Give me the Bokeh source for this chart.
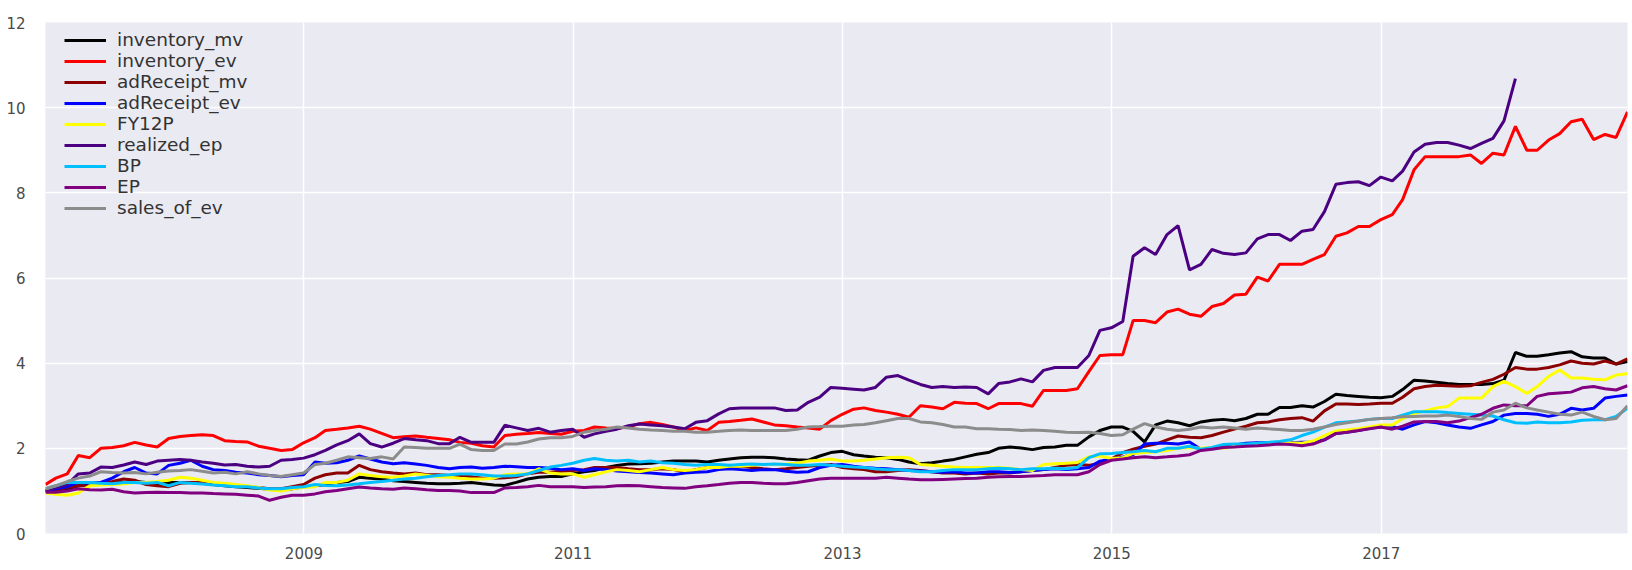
import pandas as pd
from bokeh.plotting import figure
from bokeh.models import Range1d, FixedTicker, DatetimeTickFormatter, Legend, LegendItem
from bokeh.embed import file_html
from bokeh.resources import INLINE

try:
    dates = pd.date_range("2007-01-31", "2018-10-31", freq="ME")
except Exception:
    dates = pd.date_range("2007-01-31", "2018-10-31", freq="M")

inventory_mv = [
    1.0, 0.98, 1.05, 1.12, 1.15, 1.18, 1.2, 1.2, 1.22, 1.2, 1.15, 1.2,
    1.2, 1.2, 1.18, 1.15, 1.12, 1.1, 1.08, 1.06, 1.04, 1.02, 1.05, 1.1,
    1.12, 1.15, 1.2, 1.22, 1.32, 1.3, 1.28, 1.24, 1.22, 1.2, 1.18, 1.17,
    1.17, 1.18, 1.2, 1.17, 1.14, 1.13, 1.2, 1.28, 1.32, 1.34, 1.34, 1.4,
    1.45, 1.48, 1.55, 1.6, 1.63, 1.64, 1.65, 1.68, 1.7, 1.7, 1.7, 1.68,
    1.72, 1.75, 1.78, 1.79, 1.79, 1.78, 1.75, 1.73, 1.72, 1.82, 1.9, 1.93,
    1.85, 1.82, 1.79, 1.78, 1.74, 1.68, 1.64, 1.66, 1.7, 1.74, 1.8, 1.86,
    1.9, 2.0, 2.03, 2.01, 1.97, 2.02, 2.03, 2.07, 2.07, 2.27, 2.42, 2.5,
    2.5, 2.4, 2.15, 2.55, 2.64, 2.6, 2.53, 2.62, 2.66, 2.68, 2.65, 2.7,
    2.8, 2.8, 2.96, 2.96, 3.0, 2.97, 3.1, 3.27, 3.24, 3.22, 3.2, 3.19,
    3.22, 3.38, 3.6, 3.58, 3.55, 3.52, 3.5, 3.5, 3.5, 3.52, 3.6, 4.25,
    4.16, 4.16, 4.2, 4.24, 4.27, 4.15, 4.12, 4.12, 3.98, 4.04,
]
inventory_ev = [
    1.15, 1.3, 1.4, 1.83, 1.78, 2.0, 2.02, 2.06, 2.14, 2.08, 2.03, 2.23,
    2.28, 2.3, 2.32, 2.3, 2.18, 2.16, 2.15, 2.05, 2.0, 1.95, 1.97, 2.13,
    2.25, 2.42, 2.45, 2.48, 2.52, 2.45, 2.35, 2.25, 2.27, 2.29, 2.26, 2.23,
    2.2, 2.14, 2.12, 2.06, 2.03, 2.3, 2.33, 2.35, 2.37, 2.35, 2.33, 2.4,
    2.42, 2.5, 2.48, 2.47, 2.5, 2.58, 2.61, 2.56, 2.5, 2.42, 2.48, 2.42,
    2.61, 2.63, 2.66, 2.69, 2.62, 2.55, 2.53, 2.5, 2.48, 2.45, 2.65, 2.8,
    2.92, 2.95, 2.89, 2.85, 2.8, 2.73, 3.0, 2.97, 2.93, 3.08, 3.06, 3.05,
    2.93, 3.05, 3.05, 3.05, 2.99, 3.36, 3.36, 3.36, 3.4, 3.8, 4.18, 4.2,
    4.2, 5.0, 5.0, 4.95, 5.2, 5.27, 5.15, 5.1, 5.33, 5.4, 5.6, 5.62,
    6.02, 5.93, 6.32, 6.32, 6.32, 6.44, 6.55, 6.98, 7.06, 7.21, 7.21, 7.37,
    7.49, 7.84, 8.54, 8.85, 8.85, 8.85, 8.85, 8.89, 8.69, 8.93, 8.89, 9.56,
    9.0, 9.0, 9.24, 9.39, 9.67, 9.73, 9.25, 9.37, 9.3, 9.9,
]
adReceipt_mv = [
    1.0, 1.02, 1.08, 1.12, 1.15, 1.2, 1.22, 1.28, 1.25, 1.15, 1.12, 1.1,
    1.18, 1.2, 1.2, 1.18, 1.15, 1.12, 1.1, 1.08, 1.05, 1.05, 1.1, 1.15,
    1.3, 1.38, 1.42, 1.42, 1.6, 1.5, 1.45, 1.42, 1.4, 1.42, 1.38, 1.38,
    1.36, 1.35, 1.33, 1.3, 1.3, 1.31, 1.33, 1.4, 1.44, 1.44, 1.46, 1.48,
    1.5, 1.55, 1.55, 1.55, 1.52, 1.5, 1.5, 1.52, 1.5, 1.45, 1.5, 1.55,
    1.55, 1.57, 1.58, 1.55, 1.52, 1.5, 1.52, 1.55, 1.58, 1.6, 1.62, 1.55,
    1.52, 1.5, 1.45, 1.45, 1.48, 1.5, 1.48, 1.45, 1.42, 1.42, 1.4, 1.42,
    1.4, 1.42, 1.42, 1.45, 1.48, 1.5, 1.55, 1.6, 1.62, 1.6, 1.65, 1.75,
    1.9, 1.98, 2.05, 2.1, 2.2, 2.29, 2.26, 2.25, 2.3, 2.38, 2.45, 2.52,
    2.6, 2.62, 2.67, 2.7, 2.72, 2.64, 2.88, 3.04, 3.04, 3.03, 3.04, 3.06,
    3.06, 3.2, 3.4, 3.45, 3.48, 3.47, 3.46, 3.47, 3.55, 3.62, 3.74, 3.9,
    3.86, 3.86, 3.9, 3.96, 4.05, 4.0, 3.98, 4.05, 3.98, 4.1,
]
adReceipt_ev = [
    1.0, 1.05, 1.1, 1.2, 1.18, 1.2, 1.3, 1.45, 1.55, 1.42, 1.4, 1.6,
    1.65, 1.72, 1.58, 1.5, 1.48, 1.44, 1.42, 1.38, 1.36, 1.33, 1.36, 1.38,
    1.68, 1.65, 1.66, 1.72, 1.82, 1.75, 1.68, 1.64, 1.66, 1.63, 1.6, 1.55,
    1.52, 1.55, 1.56, 1.53, 1.55, 1.58, 1.57, 1.55, 1.55, 1.53, 1.5, 1.52,
    1.48, 1.52, 1.5, 1.47, 1.45, 1.43, 1.42, 1.4, 1.38, 1.42, 1.44, 1.45,
    1.5, 1.52, 1.5, 1.48, 1.5, 1.5, 1.46, 1.44, 1.45, 1.55, 1.6, 1.62,
    1.58, 1.55, 1.53, 1.52, 1.5, 1.48, 1.47, 1.45, 1.44, 1.45, 1.42, 1.42,
    1.45, 1.45, 1.43, 1.45, 1.48, 1.5, 1.52, 1.5, 1.52, 1.55, 1.7, 1.75,
    1.8, 1.85, 2.1, 2.12, 2.12, 2.1, 2.15, 1.98, 2.0, 2.05, 2.08, 2.12,
    2.13, 2.13, 2.14, 2.13, 2.14, 2.15, 2.2, 2.35, 2.38, 2.42, 2.47, 2.5,
    2.51, 2.45, 2.55, 2.63, 2.6, 2.55, 2.5, 2.47, 2.55, 2.63, 2.78, 2.82,
    2.82, 2.8, 2.75, 2.8, 2.94, 2.9, 2.94, 3.18, 3.22, 3.25,
]
FY12P = [
    0.95, 0.92, 0.9, 0.95, 1.12, 1.14, 1.15, 1.16, 1.2, 1.2, 1.22, 1.25,
    1.32, 1.3, 1.25, 1.2, 1.18, 1.15, 1.12, 1.08, 1.02, 1.0, 1.05, 1.08,
    1.1, 1.2, 1.2, 1.25, 1.4, 1.36, 1.33, 1.32, 1.35, 1.4, 1.37, 1.33,
    1.32, 1.3, 1.28, 1.28, 1.3, 1.38, 1.4, 1.4, 1.52, 1.42, 1.4, 1.4,
    1.32, 1.38, 1.45, 1.5, 1.48, 1.45, 1.5, 1.55, 1.5, 1.48, 1.5, 1.55,
    1.55, 1.58, 1.58, 1.6, 1.62, 1.62, 1.63, 1.65, 1.7, 1.72, 1.75, 1.7,
    1.7, 1.72, 1.75, 1.78, 1.79, 1.78, 1.62, 1.6, 1.58, 1.56, 1.55, 1.55,
    1.55, 1.55, 1.53, 1.5, 1.48, 1.62, 1.64, 1.65, 1.67, 1.8, 1.82, 1.76,
    1.78, 1.88, 1.9, 1.92, 1.95, 2.0, 2.02, 2.0, 2.02, 2.0, 2.05, 2.08,
    2.1, 2.12, 2.15, 2.13, 2.12, 2.17, 2.3, 2.41, 2.43, 2.46, 2.5, 2.55,
    2.55, 2.7, 2.82, 2.88, 2.95, 2.98, 3.18, 3.18, 3.18, 3.45, 3.57, 3.45,
    3.29, 3.45, 3.69, 3.84, 3.65, 3.65, 3.62, 3.61, 3.72, 3.75,
]
realized_ep = [
    1.0, 1.08, 1.15, 1.4, 1.42, 1.56, 1.55, 1.61, 1.68, 1.62, 1.7, 1.72,
    1.74, 1.72, 1.68, 1.65, 1.61, 1.62, 1.58, 1.56, 1.58, 1.72, 1.74, 1.77,
    1.85, 1.95, 2.08, 2.18, 2.34, 2.11, 2.03, 2.12, 2.23, 2.2, 2.18, 2.11,
    2.11, 2.26, 2.14, 2.14, 2.14, 2.54, 2.48, 2.42, 2.47, 2.38, 2.42, 2.45,
    2.26, 2.34, 2.4, 2.45, 2.53, 2.57, 2.55, 2.53, 2.5, 2.46, 2.61, 2.65,
    2.81, 2.93, 2.95, 2.95, 2.95, 2.95, 2.89, 2.9, 3.08, 3.2, 3.43, 3.41,
    3.39, 3.37, 3.43, 3.67, 3.71, 3.6, 3.5, 3.43, 3.45, 3.43, 3.44, 3.43,
    3.28, 3.52, 3.56, 3.63, 3.56, 3.83, 3.9, 3.9, 3.9, 4.18, 4.77, 4.83,
    4.98, 6.51, 6.71, 6.55, 7.02, 7.23, 6.19, 6.32, 6.67, 6.58, 6.55, 6.59,
    6.92, 7.02, 7.02, 6.88, 7.1, 7.14, 7.56, 8.2, 8.24, 8.26, 8.17, 8.37,
    8.28, 8.51, 8.96, 9.14, 9.18, 9.18, 9.12, 9.04, 9.16, 9.28, 9.69, 10.68,
]
BP = [
    1.05, 1.12, 1.2, 1.2, 1.2, 1.18, 1.17, 1.2, 1.2, 1.18, 1.2, 1.12,
    1.2, 1.18, 1.16, 1.14, 1.12, 1.1, 1.1, 1.07, 1.05, 1.05, 1.08, 1.1,
    1.15, 1.13, 1.12, 1.14, 1.17, 1.2, 1.22, 1.25, 1.28, 1.3, 1.33, 1.36,
    1.38, 1.4, 1.4, 1.38, 1.35, 1.35, 1.36, 1.4, 1.48, 1.56, 1.6, 1.65,
    1.72, 1.76, 1.72, 1.7, 1.72, 1.68, 1.7, 1.66, 1.65, 1.62, 1.6, 1.62,
    1.62, 1.6, 1.62, 1.63, 1.62, 1.63, 1.62, 1.6, 1.6, 1.62, 1.6, 1.58,
    1.56, 1.55, 1.52, 1.5, 1.5, 1.48, 1.45, 1.45, 1.48, 1.5, 1.5, 1.5,
    1.52, 1.53, 1.52, 1.5, 1.52, 1.52, 1.53, 1.52, 1.55, 1.78, 1.87, 1.88,
    1.9, 1.92, 1.95, 1.92, 2.0, 2.0, 2.05, 1.98, 2.02, 2.09, 2.1, 2.1,
    2.12, 2.14, 2.16, 2.2, 2.3, 2.38, 2.5, 2.6, 2.62, 2.64, 2.68, 2.7,
    2.7, 2.78, 2.86, 2.86, 2.86, 2.84, 2.82, 2.8, 2.78, 2.76, 2.67, 2.6,
    2.59, 2.62, 2.6, 2.6, 2.62, 2.66, 2.67, 2.67, 2.75, 2.94,
]
EP = [
    0.97, 0.97, 1.0, 1.05, 1.03, 1.02, 1.04, 0.98, 0.95, 0.96, 0.97, 0.96,
    0.96, 0.95, 0.95, 0.94, 0.93, 0.92, 0.9, 0.88, 0.78, 0.85, 0.9, 0.9,
    0.93, 0.98, 1.01, 1.05, 1.09, 1.07, 1.05, 1.04, 1.07, 1.05, 1.03, 1.01,
    1.01, 1.0, 0.96, 0.96, 0.96, 1.07, 1.08, 1.1, 1.13, 1.1, 1.1, 1.1,
    1.08, 1.09, 1.1, 1.12, 1.13, 1.12, 1.1, 1.08, 1.07, 1.06, 1.1, 1.12,
    1.15, 1.18, 1.2, 1.2, 1.18, 1.17, 1.17, 1.2, 1.24, 1.28, 1.3, 1.3,
    1.3, 1.3, 1.3, 1.32, 1.3, 1.28, 1.26, 1.26, 1.27, 1.28, 1.29, 1.3,
    1.32, 1.33, 1.34, 1.34, 1.35, 1.36, 1.38, 1.38, 1.38, 1.45, 1.62, 1.72,
    1.75, 1.78, 1.8, 1.78, 1.8, 1.82, 1.85, 1.95, 1.98, 2.02, 2.03, 2.05,
    2.06, 2.08, 2.1, 2.09, 2.06, 2.1, 2.2, 2.35, 2.38, 2.42, 2.46, 2.5,
    2.45, 2.52, 2.62, 2.63, 2.63, 2.6, 2.64, 2.72, 2.8, 2.94, 3.02, 3.0,
    3.0, 3.22, 3.28, 3.3, 3.32, 3.42, 3.45, 3.4, 3.37, 3.47,
]
sales_of_ev = [
    1.05, 1.12, 1.22, 1.3, 1.35, 1.45, 1.43, 1.42, 1.43, 1.4, 1.44, 1.47,
    1.48, 1.5, 1.46, 1.42, 1.44, 1.4, 1.45, 1.4, 1.36, 1.34, 1.38, 1.42,
    1.62, 1.65, 1.72, 1.8, 1.78, 1.76, 1.8, 1.75, 2.03, 2.02, 2.0, 2.0,
    2.0, 2.1, 1.97, 1.95, 1.95, 2.1, 2.1, 2.15, 2.22, 2.25, 2.25, 2.28,
    2.38, 2.42, 2.45, 2.5, 2.48, 2.45, 2.43, 2.42, 2.4, 2.4, 2.38, 2.38,
    2.4, 2.42, 2.43, 2.42, 2.42, 2.42, 2.42, 2.45, 2.5, 2.51, 2.52, 2.52,
    2.55, 2.56, 2.6, 2.65, 2.7, 2.7, 2.62, 2.6, 2.56, 2.5, 2.5, 2.46,
    2.46, 2.45, 2.44, 2.42, 2.43, 2.42, 2.4, 2.38, 2.37, 2.38, 2.35, 2.3,
    2.32, 2.45, 2.58, 2.5, 2.45, 2.42, 2.45, 2.5, 2.48, 2.5, 2.48, 2.45,
    2.48, 2.46, 2.44, 2.42, 2.42, 2.45, 2.5, 2.56, 2.6, 2.64, 2.68, 2.7,
    2.72, 2.74, 2.75, 2.76, 2.76, 2.78, 2.75, 2.7, 2.68, 2.85, 2.9, 3.06,
    2.95, 2.9, 2.85, 2.8, 2.78, 2.85, 2.75, 2.67, 2.7, 3.0,
]

series_names = ["inventory_mv", "inventory_ev", "adReceipt_mv", "adReceipt_ev",
                "FY12P", "realized_ep", "BP", "EP", "sales_of_ev"]
series_values = [inventory_mv, inventory_ev, adReceipt_mv, adReceipt_ev,
                 FY12P, realized_ep, BP, EP, sales_of_ev]
series_colors = ["#000000", "#ff0000", "#8b0000", "#0000ff", "#ffff00",
                 "#4b0082", "#00bfff", "#800080", "#8c8c8c"]

tick_years = [2009, 2011, 2013, 2015, 2017]
y_ticks = [0, 2, 4, 6, 8, 10, 12]

p = figure(width=1632, height=570, x_axis_type="datetime",
           output_backend="svg", toolbar_location=None,
           x_range=Range1d(start=dates[0], end=dates[-1]),
           y_range=Range1d(start=0, end=12),
           min_border_left=45, min_border_right=5,
           min_border_top=22, min_border_bottom=37)
p.background_fill_color = "#EAEAF2"
p.border_fill_color = "white"
p.outline_line_color = None

p.xaxis.ticker = FixedTicker(ticks=[pd.Timestamp(f"{y}-01-01").value / 1e6 for y in tick_years])
p.xaxis.formatter = DatetimeTickFormatter(years="%Y", months="%Y", days="%Y", hours="%Y",
                                          minutes="%Y", seconds="%Y", milliseconds="%Y",
                                          microseconds="%Y", hourmin="%Y", minsec="%Y")
p.yaxis.ticker = FixedTicker(ticks=y_ticks)

for ax in (p.xaxis, p.yaxis):
    ax.axis_line_color = None
    ax.major_tick_line_color = None
    ax.minor_tick_line_color = None
    ax.major_label_text_font = "DejaVu Sans"
    ax.major_label_text_font_size = "15px"
    ax.major_label_text_color = "#4a4a4a"
p.xaxis.major_label_standoff = 7
p.yaxis.major_label_standoff = 14

p.xgrid.grid_line_color = "white"
p.ygrid.grid_line_color = "white"
p.xgrid.grid_line_width = 1.5
p.ygrid.grid_line_width = 1.5

items = []
for name, vals, col in zip(series_names, series_values, series_colors):
    r = p.line(dates[:len(vals)], vals, line_color=col, line_width=3)
    items.append(LegendItem(label=name, renderers=[r]))

legend = Legend(items=items, location=(19, 315), background_fill_alpha=0,
                border_line_color=None, label_text_font="DejaVu Sans",
                label_text_font_size="18.5px", label_text_color="#333333",
                glyph_width=42, glyph_height=20, label_height=20, spacing=0,
                label_standoff=11, padding=8)
p.add_layout(legend)

open("out.html", "w").write(file_html(p, INLINE))
